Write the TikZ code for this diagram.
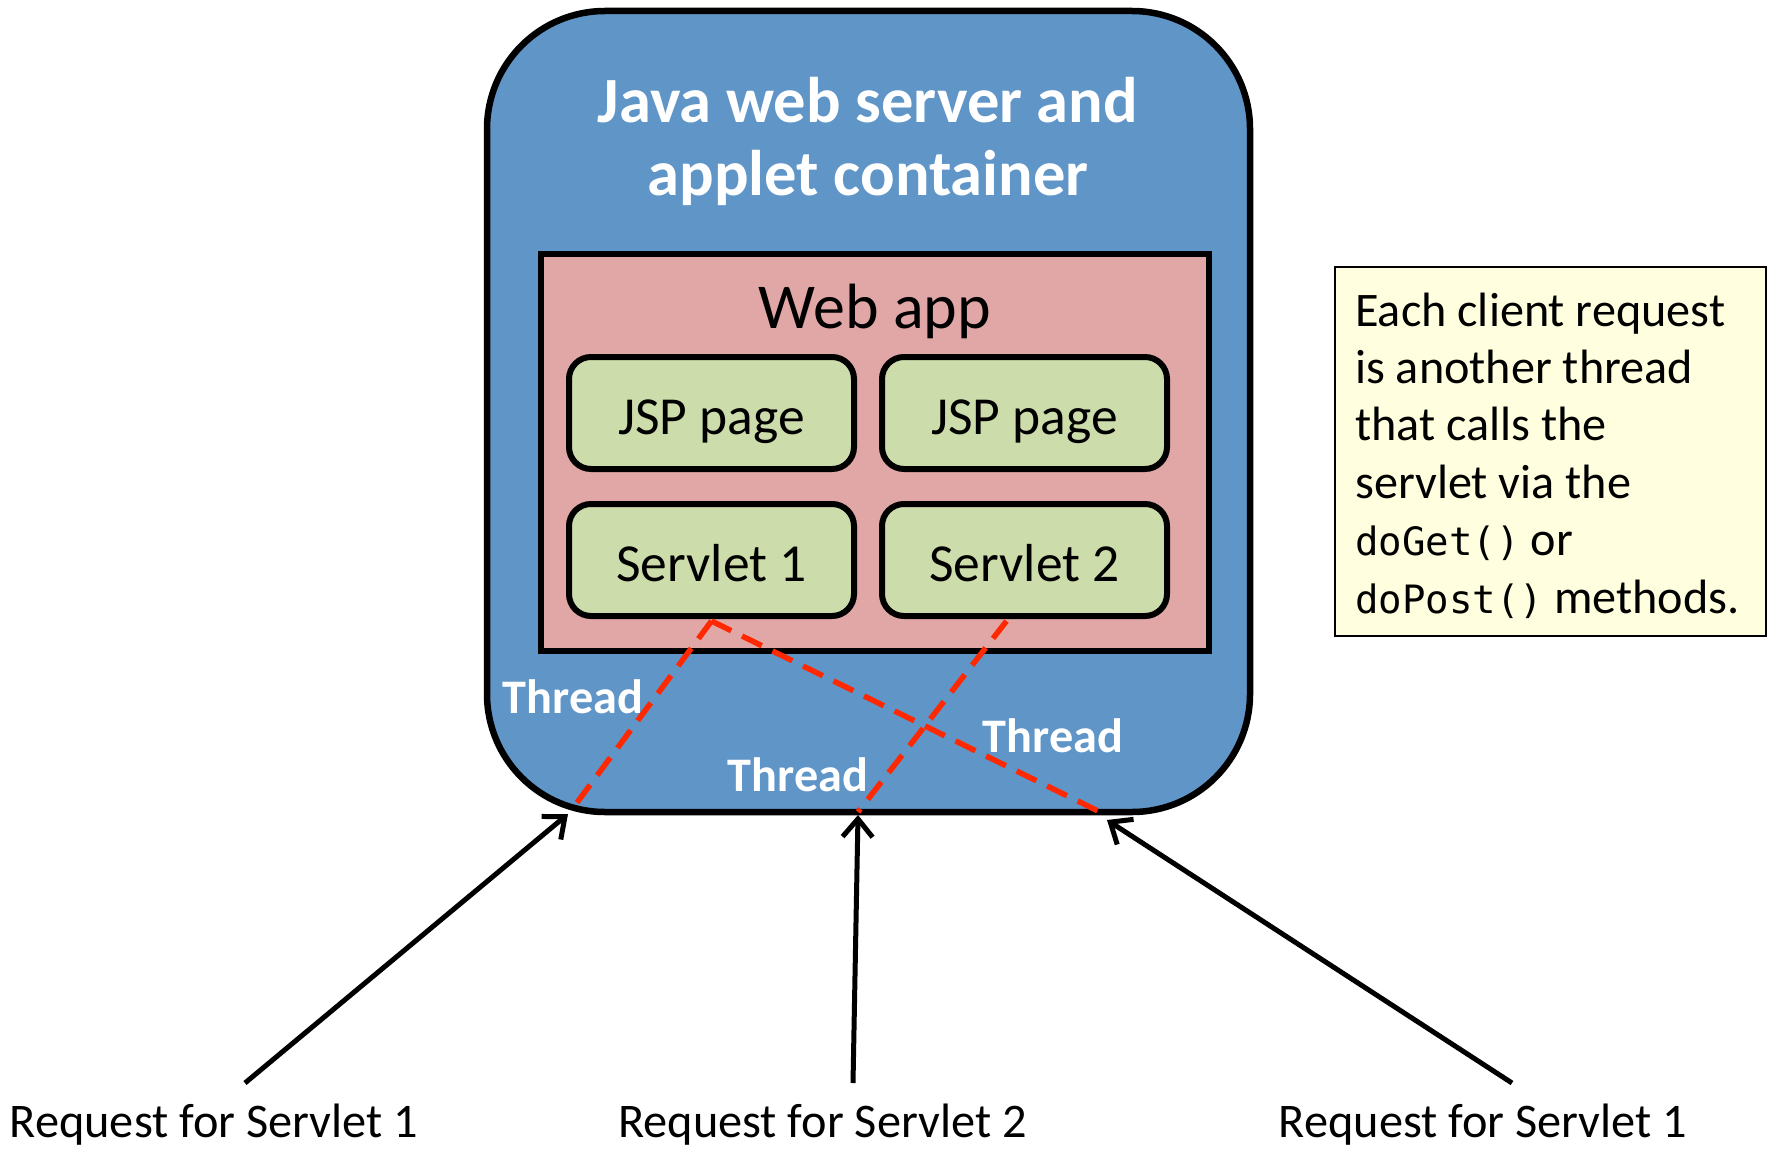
\documentclass[tikz,border=0pt]{standalone}
\usepackage{fontspec}
\setmainfont{Carlito}
\newfontfamily\codefont{DejaVu Sans Mono}[Scale=0.81]
\usetikzlibrary{arrows.meta,calc}
\definecolor{srvblue}{RGB}{96,149,200}
\definecolor{apppink}{RGB}{225,167,166}
\definecolor{compgreen}{RGB}{205,220,171}
\definecolor{noteyellow}{RGB}{255,255,224}
\definecolor{threadred}{RGB}{255,40,0}
\begin{document}
\begin{tikzpicture}[x=1pt,y=-1pt,
  serverbox/.style={draw=black, line width=6.5pt, fill=srvblue, rounded corners=118pt,
    minimum width=763pt, minimum height=801pt, inner sep=0pt},
  titlelbl/.style={text=white, align=center, inner sep=0pt,
    font=\bfseries\fontsize{64.5}{73}\selectfont},
  appbox/.style={draw=black, line width=6pt, fill=apppink,
    minimum width=668pt, minimum height=397pt, inner sep=0pt},
  applbl/.style={inner sep=0pt, font=\fontsize{64}{72}\selectfont},
  compbox/.style={draw=black, line width=6pt, fill=compgreen, rounded corners=22pt,
    minimum width=285pt, minimum height=112pt, inner sep=0pt,
    text height=50pt, text depth=7pt,
    font=\fontsize{53.5}{62}\selectfont},
  threadlbl/.style={text=white, inner sep=0pt, font=\bfseries\fontsize{48.2}{56}\selectfont},
  reqlbl/.style={inner sep=0pt, font=\fontsize{48.3}{56}\selectfont},
  notebox/.style={draw=black, line width=2.5pt, fill=noteyellow,
    minimum width=431pt, minimum height=369pt, inner sep=0pt},
  notelbl/.style={align=left, inner sep=0pt, font=\fontsize{48.2}{57.4}\selectfont},
  threadline/.style={draw=threadred, line width=5.5pt, dash pattern=on 22pt off 12pt},
  reqarrow/.style={draw=black, line width=5pt, -{Straight Barb[length=18pt,width=30pt]}}
]
\useasboundingbox (0,0) rectangle (1769,1150);

% server container
\node[serverbox] (server) at (868.5,411.5) {};
\node[titlelbl] (title) at (868,141) {Java web server and\\applet container};

% web app
\node[appbox] (webapp) at (875,452.5) {};
\node[applbl] (webapplbl) at (875,311) {Web app};
\node[compbox] (jsp1) at (711.5,413) {JSP page};
\node[compbox] (jsp2) at (1024.5,413) {JSP page};
\node[compbox] (srv1) at (711.5,560) {Servlet 1};
\node[compbox] (srv2) at (1024.5,560) {Servlet 2};

% thread lines
\coordinate (s1out) at ($(srv1.south)+(0,2)$);
\coordinate (s2out) at ($(srv2.south)+(-18,2)$);
\coordinate (in1) at (570,812);
\coordinate (in2) at (858,812);
\coordinate (in3) at (1100,812);
\draw[threadline] (s1out) -- (in1);
\draw[threadline] (s1out) -- (in3);
\draw[threadline] (s2out) -- (in2);

\node[threadlbl] (th1) at (573,697) {Thread};
\node[threadlbl] (th2) at (798,775) {Thread};
\node[threadlbl] (th3) at (1053,736) {Thread};

% note
\node[notebox] (note) at (1550.5,451.5) {};
\node[notelbl, anchor=west] (notetext) at (1355,455.5)
  {Each client request\\is another thread\\that calls the\\servlet via the\\{\codefont doGet()} or\\{\codefont doPost()} methods.};

% requests
\node[reqlbl] (req1) at (214,1125) {Request for Servlet 1};
\node[reqlbl] (req2) at (822.5,1125) {Request for Servlet 2};
\node[reqlbl] (req3) at (1483,1125) {Request for Servlet 1};
\coordinate (a1start) at (245,1083);
\coordinate (a2start) at (853,1083);
\coordinate (a3start) at (1512,1083);
\coordinate (a1tip) at (568,814);
\coordinate (a2tip) at (858,815);
\coordinate (a3tip) at (1107,820);
\draw[reqarrow] (a1start) -- (a1tip);
\draw[reqarrow] (a2start) -- (a2tip);
\draw[reqarrow] (a3start) -- (a3tip);
\end{tikzpicture}
\end{document}
